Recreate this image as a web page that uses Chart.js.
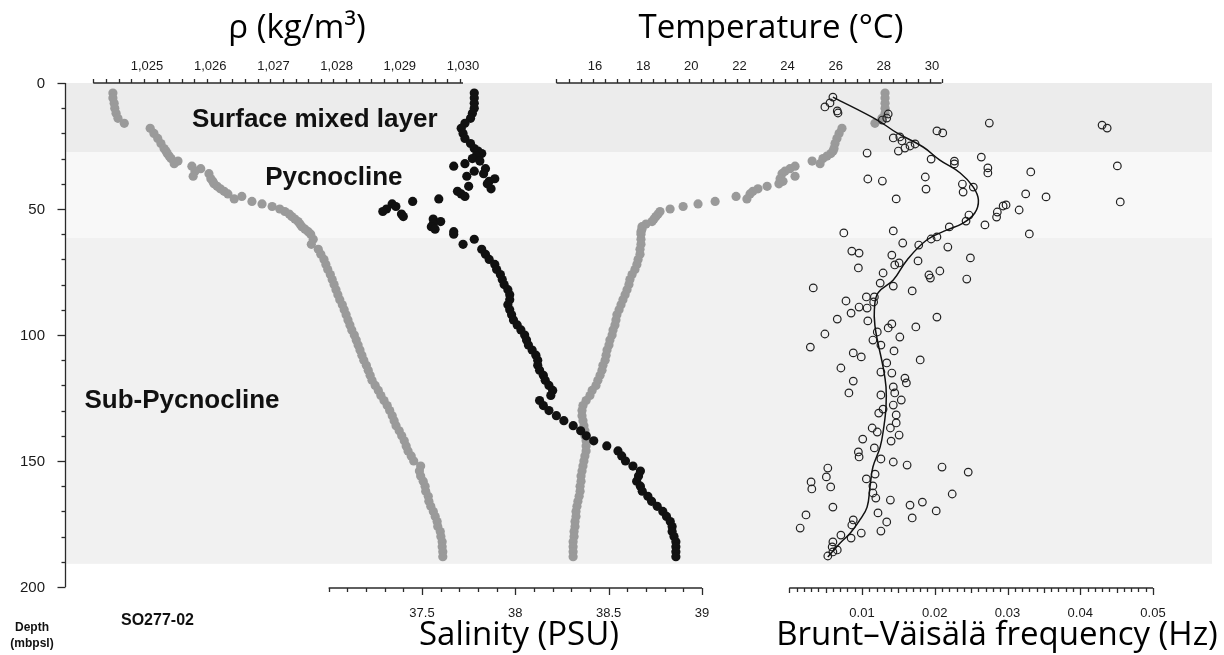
<!DOCTYPE html>
<html>
<head>
<meta charset="utf-8">
<title>SO277-02 profile</title>
<script src="https://cdn.jsdelivr.net/npm/chart.js@4.4.1/dist/chart.umd.min.js"></script>
<style>
    html, body { margin: 0; padding: 0; background: #ffffff; }
    #wrap { width: 1224px; height: 655px; }
</style>
</head>
<body>
<div id="wrap"><canvas id="profileChart" width="1224" height="655"></canvas></div>
<script>
// CTD cast depths (m), shared by density, salinity and temperature
const depth = [
    4, 6, 8, 10, 12, 14, 16, 18, 20, 22, 24,
    26, 27, 28, 29, 30, 31, 32, 33, 34, 35, 36, 37, 38, 39, 40, 41, 42, 43,
    44, 45, 46, 47, 48, 49, 50, 51, 52, 53, 54, 55, 56, 57, 58, 59, 60,
    62, 64, 66, 68, 70, 72, 74, 76, 78, 80, 82, 84, 86, 88, 90, 92, 94, 96, 98, 100,
    102, 104, 106, 108, 110, 112, 114, 116, 118, 120, 122, 124, 126, 128, 130, 132,
    134, 136, 138, 140, 142, 144, 146, 148, 150, 152, 154, 156, 158, 160, 162, 164,
    166, 168, 170, 172, 174, 176, 178, 180, 182, 184, 186, 188
];

const density = [
    1024.46, 1024.46, 1024.48, 1024.49, 1024.51, 1024.54, 1024.64, 1025.05, 1025.11, 1025.17, 1025.22,
    1025.27, 1025.30, 1025.32, 1025.35, 1025.38, 1025.49, 1025.43, 1025.71, 1025.85, 1025.76, 1025.98,
    1025.73, 1026.01, 1026.04, 1026.06, 1026.11, 1026.16, 1026.22, 1026.28, 1026.50, 1026.38, 1026.66,
    1026.82, 1026.98, 1027.10, 1027.18, 1027.25, 1027.29, 1027.34, 1027.39, 1027.42, 1027.45, 1027.50,
    1027.55, 1027.59,
    1027.63, 1027.60, 1027.71, 1027.75, 1027.80, 1027.83, 1027.86, 1027.90, 1027.93, 1027.96,
    1027.99, 1028.02, 1028.05, 1028.09, 1028.12, 1028.15, 1028.18, 1028.21, 1028.24, 1028.28,
    1028.31, 1028.34, 1028.37, 1028.40, 1028.43, 1028.47, 1028.50, 1028.53, 1028.56, 1028.61,
    1028.66, 1028.70, 1028.75, 1028.80, 1028.84, 1028.88, 1028.91, 1028.94, 1028.99, 1029.03,
    1029.07, 1029.10, 1029.13, 1029.18, 1029.22, 1029.33, 1029.31, 1029.33, 1029.37, 1029.40,
    1029.41, 1029.45, 1029.46, 1029.49, 1029.53, 1029.56, 1029.59, 1029.60, 1029.64, 1029.65,
    1029.67, 1029.67, 1029.68, 1029.68
];

const salinity = [
    37.78, 37.78, 37.78, 37.78, 37.77, 37.76, 37.73, 37.71, 37.72, 37.73, 37.76,
    37.78, 37.80, 37.82, 37.79, 37.77, 37.81, 37.73, 37.67, 37.84, 37.78, 37.83, 37.74, 37.89,
    37.86, 37.85, 37.75, 37.87, 37.69, 37.71, 37.73, 37.59, 37.45, 37.34, 37.36, 37.31, 37.29,
    37.39, 37.40, 37.56, 37.60, 37.56, 37.55, 37.57, 37.67, 37.67,
    37.78, 37.72, 37.82, 37.84, 37.86, 37.89, 37.90, 37.92, 37.93, 37.94,
    37.96, 37.97, 37.97, 37.96, 37.97, 37.98, 37.99, 38.01, 38.03, 38.05,
    38.06, 38.07, 38.09, 38.11, 38.12, 38.12, 38.13, 38.15, 38.16, 38.18,
    38.20, 38.19, 38.13, 38.15, 38.18, 38.22, 38.26, 38.31, 38.35, 38.38,
    38.42, 38.49, 38.55, 38.57, 38.59, 38.63, 38.67, 38.66, 38.65, 38.67,
    38.68, 38.71, 38.73, 38.76, 38.79, 38.81, 38.83, 38.84, 38.84, 38.85,
    38.86, 38.86, 38.86, 38.86
];

const temperature = [
    28.05, 28.05, 28.05, 28.05, 28.05, 27.92, 27.63, 26.26, 26.14, 26.05, 25.97,
    25.93, 25.89, 25.80, 25.64, 25.47, 25.02, 25.35, 24.31, 24.10, 23.89, 23.77, 24.31, 23.69,
    23.81, 23.64, 23.15, 22.77, 22.56, 22.44, 21.86, 22.31, 20.99, 20.28, 19.66, 19.12, 18.70,
    18.62, 18.53, 18.45, 18.37, 18.12, 17.95, 17.95, 17.91, 17.91,
    17.91, 17.91, 17.87, 17.87, 17.79, 17.74, 17.66, 17.54, 17.45, 17.41,
    17.33, 17.25, 17.16, 17.08, 17.00, 16.91, 16.87, 16.83, 16.75, 16.71,
    16.62, 16.58, 16.50, 16.46, 16.42, 16.33, 16.29, 16.21, 16.12, 16.04,
    15.88, 15.79, 15.63, 15.50, 15.46, 15.46, 15.50, 15.54, 15.58, 15.58,
    15.63, 15.63, 15.63, 15.58, 15.54, 15.50, 15.46, 15.42, 15.42, 15.38,
    15.38, 15.34, 15.29, 15.25, 15.21, 15.21, 15.17, 15.17, 15.13, 15.13,
    15.09, 15.09, 15.09, 15.09
];

// Brunt-Vaisala frequency samples (depth m, Hz)
const bvDepth = [
    5.6, 9.5, 7.9, 11.1, 11.9, 12.3, 13.9, 14.7, 15.9, 16.7, 17.9, 19.0, 19.8, 21.8, 21.4, 23.0,
    27.0, 25.8, 25.0, 24.2, 27.8, 30.2, 31.0, 32.1, 29.4, 33.7, 35.7, 35.3, 32.9, 38.1, 38.9, 37.3,
    42.1, 40.1, 43.3, 41.3, 46.0, 44.0, 45.2, 47.2, 52.4, 54.8, 51.2, 53.2, 48.8, 48.4, 50.4, 56.3,
    59.9, 57.1, 59.5, 58.7, 61.9, 61.1, 64.3, 63.5, 65.1, 66.7, 67.5, 68.3, 70.6, 69.4, 73.4, 72.2,
    71.4, 75.4, 74.6, 76.2, 77.4, 77.8, 81.3, 79.4, 80.6, 82.5, 86.5, 84.9, 84.9, 86.9, 88.9, 89.3,
    91.3, 93.7, 94.4, 92.9, 97.2, 95.6, 96.8, 99.6, 98.8, 102.0, 104.0, 100.8, 104.8, 106.3, 107.1,
    108.7, 109.9, 111.1, 113.1, 114.7, 115.1, 117.1, 119.0, 118.3, 120.6, 123.0, 123.8, 123.0, 125.8,
    127.8, 131.0, 129.4, 131.7, 136.9, 138.5, 136.9, 134.9, 139.7, 142.1, 141.3, 144.8, 146.4, 148.4,
    149.2, 150.4, 151.6, 152.4, 154.4, 152.8, 156.3, 158.3, 161.1, 160.3, 157.1, 155.2, 159.9, 162.7,
    164.7, 165.5, 167.5, 166.3, 163.1, 169.8, 168.3, 170.6, 172.6, 171.4, 174.2, 173.4, 175.4, 176.6,
    179.4, 178.6, 177.8, 180.6, 182.1, 184.1, 186.1, 187.7, 185.3
];
const bvFreq = [
    0.0060, 0.0049, 0.0056, 0.0066, 0.0067, 0.0136, 0.0134, 0.0128, 0.0275, 0.0430, 0.0437, 0.0203,
    0.0211, 0.0143, 0.0152, 0.0155, 0.0150, 0.0159, 0.0166, 0.0173, 0.0107, 0.0195, 0.0227, 0.0227,
    0.0264, 0.0273, 0.0273, 0.0332, 0.0451, 0.0108, 0.0128, 0.0187, 0.0188, 0.0238, 0.0239, 0.0253,
    0.0147, 0.0325, 0.0353, 0.0455, 0.0247, 0.0243, 0.0286, 0.0285, 0.0294, 0.0298, 0.0316, 0.0269,
    0.0330, 0.0220, 0.0075, 0.0143, 0.0195, 0.0203, 0.0178, 0.0156, 0.0218, 0.0086, 0.0096, 0.0141,
    0.0177, 0.0249, 0.0095, 0.0145, 0.0151, 0.0129, 0.0207, 0.0192, 0.0194, 0.0244, 0.0033, 0.0125,
    0.0143, 0.0169, 0.0078, 0.0106, 0.0117, 0.0116, 0.0096, 0.0107, 0.0085, 0.0066, 0.0108, 0.0203,
    0.0136, 0.0141, 0.0174, 0.0049, 0.0121, 0.0115, 0.0126, 0.0152, 0.0029, 0.0144, 0.0088, 0.0099,
    0.0180, 0.0134, 0.0071, 0.0126, 0.0141, 0.0159, 0.0161, 0.0088, 0.0143, 0.0082, 0.0126, 0.0145,
    0.0154, 0.0143, 0.0123, 0.0129, 0.0147, 0.0114, 0.0121, 0.0139, 0.0147, 0.0151, 0.0140, 0.0101,
    0.0117, 0.0095, 0.0096, 0.0126, 0.0143, 0.0162, 0.0210, 0.0246, 0.0053, 0.0051, 0.0030, 0.0031,
    0.0057, 0.0106, 0.0118, 0.0115, 0.0115, 0.0119, 0.0139, 0.0166, 0.0183, 0.0224, 0.0202, 0.0060,
    0.0122, 0.0169, 0.0023, 0.0134, 0.0088, 0.0086, 0.0015, 0.0071, 0.0099, 0.0126, 0.0085, 0.0060,
    0.0059, 0.0060, 0.0053, 0.0066
];

// smoothed fit through the frequency samples
const bvFitDepth = [5.6, 14.7, 19.8, 25.4, 30.6, 35.7, 41.3, 46.4, 51.6, 55.6, 58.3, 62.3, 70.2, 78.2,
    83.3, 90.0, 96.8, 103.2, 112.7, 120.6, 128.6, 136.5, 144.4, 152.4, 160.3, 168.3, 173.4, 178.6, 182.5, 188.1];
const bvFitFreq = [0.0060, 0.0121, 0.0148, 0.0184, 0.0207, 0.0235, 0.0253, 0.0260, 0.0255, 0.0239, 0.0217,
    0.0189, 0.0162, 0.0143, 0.0122, 0.0117, 0.0118, 0.0122, 0.0129, 0.0133, 0.0133, 0.0130, 0.0125, 0.0115,
    0.0111, 0.0107, 0.0097, 0.0084, 0.0070, 0.0053];

// water column layers (depth m)
const layerNames = ['Surface mixed layer', 'Pycnocline', 'Sub-Pycnocline'];
const layerTop = [0, 27.5, 61.5];
const layerBottom = [27.5, 61.5, 190.8];
const layerColors = ['#ececec', '#f8f8f8', '#f1f1f1'];

// axis ticks
const depthTicks = [0, 50, 100, 150, 200];
const densityTicks = [1025, 1026, 1027, 1028, 1029, 1030];
const densityLabels = ['1,025', '1,026', '1,027', '1,028', '1,029', '1,030'];
const tempTicks = [16, 18, 20, 22, 24, 26, 28, 30];
const salTicks = [37.5, 38, 38.5, 39];
const bvTicks = [0.01, 0.02, 0.03, 0.04, 0.05];

function toPoints(xs, ys) {
    return xs.map((v, i) => ({ x: v, y: ys[i] }));
}

const layerPlugin = {
    id: 'layers',
    beforeDatasetsDraw(chart) {
        const ctx = chart.ctx;
        const area = chart.chartArea;
        const y = chart.scales.y;
        ctx.save();
        layerTop.forEach((top, i) => {
            const y0 = y.getPixelForValue(top);
            const y1 = y.getPixelForValue(layerBottom[i]);
            ctx.fillStyle = layerColors[i];
            ctx.fillRect(area.left, y0, area.right - area.left, y1 - y0);
        });
        ctx.restore();
    }
};

function drawHAxis(ctx, scale, yPos, from, to, minorStep, ticks, labels, dir, labelY, extraStep) {
    ctx.beginPath();
    ctx.moveTo(scale.getPixelForValue(from), yPos);
    ctx.lineTo(scale.getPixelForValue(to), yPos);
    ctx.stroke();
    const n = Math.round((to - from) / minorStep);
    for (let i = 0; i <= n; i++) {
        const v = from + i * minorStep;
        const px = Math.round(scale.getPixelForValue(v)) + 0.5;
        let len = 4;
        if (extraStep && Math.abs(v / extraStep - Math.round(v / extraStep)) < 1e-6) len = 5;
        if (ticks.some(t => Math.abs(t - v) < minorStep / 10)) len = 7;
        ctx.beginPath();
        ctx.moveTo(px, yPos);
        ctx.lineTo(px, yPos + dir * len);
        ctx.stroke();
    }
    ctx.textAlign = 'center';
    ctx.textBaseline = 'alphabetic';
    ticks.forEach((t, i) => {
        ctx.fillText(labels[i], scale.getPixelForValue(t), labelY);
    });
}

const axesPlugin = {
    id: 'customAxes',
    afterDraw(chart) {
        const ctx = chart.ctx;
        const area = chart.chartArea;
        const s = chart.scales;
        ctx.save();
        ctx.strokeStyle = '#2a2a2a';
        ctx.fillStyle = '#1a1a1a';
        ctx.lineWidth = 1.3;

        // depth axis
        const ax = area.left - 0.5;
        ctx.beginPath();
        ctx.moveTo(ax, s.y.getPixelForValue(0));
        ctx.lineTo(ax, s.y.getPixelForValue(200));
        ctx.stroke();
        for (let d = 0; d <= 200; d += 10) {
            const py = Math.round(s.y.getPixelForValue(d)) + 0.5;
            const len = d % 50 === 0 ? 8 : 4;
            ctx.beginPath();
            ctx.moveTo(ax - len, py);
            ctx.lineTo(ax, py);
            ctx.stroke();
        }
        ctx.font = '15px "Liberation Sans", Arial, sans-serif';
        ctx.textAlign = 'right';
        ctx.textBaseline = 'middle';
        depthTicks.forEach(d => ctx.fillText(String(d), 45, s.y.getPixelForValue(d) + 1));

        // top axes
        const topY = area.top;
        ctx.font = '13px "Liberation Sans", Arial, sans-serif';
        drawHAxis(ctx, s.x, topY, 1024.15, 1030, 0.2, densityTicks, densityLabels, -1, 70);
        drawHAxis(ctx, s.xT, topY, 14.4, 30.4, 0.5, tempTicks, tempTicks.map(String), -1, 70);

        // bottom axes
        const botY = area.bottom + 1;
        drawHAxis(ctx, s.xS, botY, 37.0, 39.0, 0.1, salTicks, salTicks.map(String), 1, 617);
        drawHAxis(ctx, s.xN, botY, 0, 0.05, 0.001, bvTicks, bvTicks.map(String), 1, 617, 0.005);

        // axis titles
        ctx.fillStyle = '#000';
        ctx.font = '33px "Open Sans", sans-serif';
        ctx.textAlign = 'center';
        ctx.fillText('ρ (kg/m³)', 297, 38);
        ctx.fillText('Temperature (°C)', 771, 38);
        ctx.fillText('Salinity (PSU)', 519, 645);
        ctx.fillText('Brunt–Väisälä frequency (Hz)', 997, 645);

        // layer names
        ctx.fillStyle = '#111';
        ctx.font = 'bold 26px "Liberation Sans", Arial, sans-serif';
        ctx.textAlign = 'left';
        ctx.fillText(layerNames[0], s.x.getPixelForValue(1025.71), s.y.getPixelForValue(17.5));
        ctx.fillText(layerNames[1], s.x.getPixelForValue(1026.87), s.y.getPixelForValue(40.5));
        ctx.fillText(layerNames[2], s.x.getPixelForValue(1024.01), s.y.getPixelForValue(129));

        // station and depth unit
        ctx.font = 'bold 16px "Liberation Sans", Arial, sans-serif';
        ctx.fillText('SO277-02', 121, 625);
        ctx.font = 'bold 12px "Liberation Sans", Arial, sans-serif';
        ctx.textAlign = 'center';
        ctx.fillText('Depth', 32, 631);
        ctx.fillText('(mbpsl)', 32, 647);
        ctx.restore();
    }
};

function initProfileChart() {
    const ctx = document.getElementById('profileChart').getContext('2d');

    new Chart(ctx, {
        type: 'scatter',
        data: {
            datasets: [
                {
                    label: 'N fit',
                    data: toPoints(bvFitFreq, bvFitDepth),
                    xAxisID: 'xN',
                    showLine: true,
                    borderColor: '#111',
                    borderWidth: 1.5,
                    pointRadius: 0,
                    tension: 0.4
                },
                {
                    label: 'Brunt-Vaisala frequency',
                    data: toPoints(bvFreq, bvDepth),
                    xAxisID: 'xN',
                    pointRadius: 3.8,
                    borderColor: '#222',
                    borderWidth: 1.2,
                    backgroundColor: 'rgba(0,0,0,0)'
                },
                {
                    label: 'Salinity',
                    data: toPoints(salinity, depth),
                    xAxisID: 'xS',
                    pointRadius: 4.6,
                    borderWidth: 0,
                    backgroundColor: '#111111'
                },
                {
                    label: 'Temperature',
                    data: toPoints(temperature, depth),
                    xAxisID: 'xT',
                    pointRadius: 4.6,
                    borderWidth: 0,
                    backgroundColor: '#9a9a9a'
                },
                {
                    label: 'Density',
                    data: toPoints(density, depth),
                    xAxisID: 'x',
                    pointRadius: 4.6,
                    borderWidth: 0,
                    backgroundColor: '#9a9a9a'
                }
            ]
        },
        options: {
            responsive: false,
            animation: false,
            devicePixelRatio: 1,
            layout: {
                padding: { left: 66, right: 12, top: 83, bottom: 68 }
            },
            plugins: {
                legend: { display: false },
                tooltip: { enabled: false }
            },
            scales: {
                y: { type: 'linear', min: 0, max: 200, reverse: true, display: false },
                x: { type: 'linear', min: 1023.718, max: 1041.851, display: false },
                xT: { type: 'linear', axis: 'x', min: -5.978, max: 41.633, display: false },
                xS: { type: 'linear', axis: 'x', min: 35.5929, max: 41.7321, display: false },
                xN: { type: 'linear', axis: 'x', min: -0.099416, max: 0.05811, display: false }
            }
        },
        plugins: [layerPlugin, axesPlugin]
    });
}

document.addEventListener('DOMContentLoaded', initProfileChart);
</script>
</body>
</html>
